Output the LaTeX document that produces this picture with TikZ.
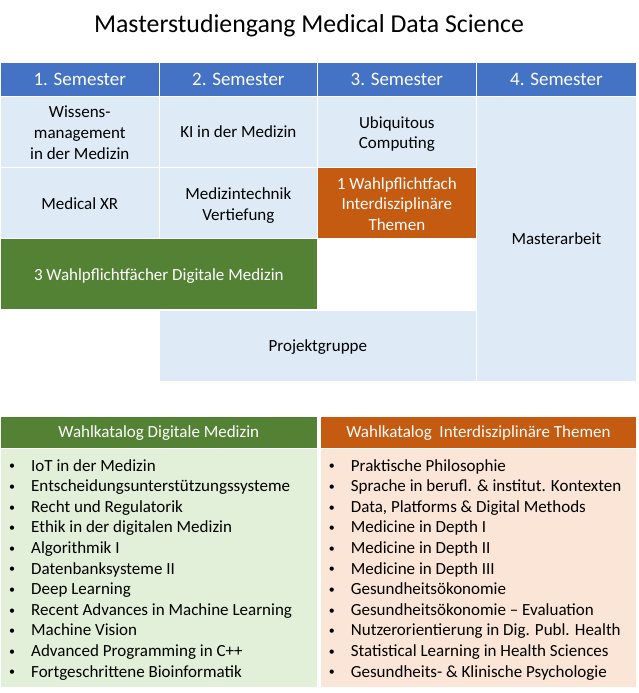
\documentclass[tikz,border=0pt]{standalone}
\usepackage{fontspec}
\setmainfont{Carlito}
\definecolor{headblue}{HTML}{4472C4}
\definecolor{cellblue}{HTML}{DEEBF7}
\definecolor{dgreen}{HTML}{548235}
\definecolor{dorange}{HTML}{C55A11}
\definecolor{lgreen}{HTML}{E2F0D9}
\definecolor{lorange}{HTML}{FBE5D6}
\newcommand{\smallbullet}{\llap{\raisebox{1.2pt}{\fontsize{12}{12}\selectfont•}\hspace{16pt}}}
\newcommand{\celldepth}{4.6pt}
\begin{document}
\begin{tikzpicture}[x=1pt,y=-1pt,
  celldp/.store in=\celldepth,
  box/.style={inner sep=0pt, outer sep=0pt, align=center, font=\fontsize{17}{20.6}\selectfont},
  tbox/.style={box, execute at begin node={\rule{0pt}{16.6pt}}, execute at end node={\rule[-\celldepth]{0pt}{0pt}}},
  mtext/.style={tbox, text=black, yshift=-3.3pt},
  head/.style={box, fill=headblue, text=white, font=\fontsize{19}{22}\selectfont, minimum height=32.5pt},
  cell/.style={tbox, fill=cellblue, text=black},
  gcell/.style={tbox, fill=dgreen, text=white},
  ocell/.style={tbox, fill=dorange, text=white},
  item/.style={anchor=base west, inner sep=0pt, font=\fontsize{17}{20.6}\selectfont, text=black},
  title/.style={anchor=base, inner sep=0pt, font=\fontsize{25.8}{30}\selectfont}
]
\useasboundingbox (0,0) rectangle (639,693);
\fill[white] (0,0) rectangle (639,693);

\node[title] (title) at (309,33) {Masterstudiengang Medical Data Science};

% header row
\node[head, minimum width=157.5pt] (s1) at (79.75,79.25) {1. Semester};
\node[head, minimum width=156.7pt] (s2) at (238.35,79.25) {2. Semester};
\node[head, minimum width=157.7pt] (s3) at (396.85,79.25) {3. Semester};
\node[head, minimum width=158.2pt] (s4) at (556.4,79.25) {4. Semester};

% row 2
\node[cell, minimum width=157.5pt, minimum height=69.9pt, label={[mtext]center:{Wissens-\\management\\in der Medizin}}] (wm) at (79.75,131.75) {};
\node[cell, minimum width=156.7pt, minimum height=69.9pt] (ki) at (238.35,131.75) {KI in der Medizin};
\node[cell, minimum width=157.7pt, minimum height=69.9pt, label={[mtext]center:{Ubiquitous\\Computing}}] (uc) at (396.85,131.75) {};
\node[cell, minimum width=158.2pt, minimum height=283.7pt] (ma) at (556.4,238.65) {Masterarbeit};

% row 3
\node[cell, minimum width=157.5pt, minimum height=69.4pt] (xr) at (79.75,203) {Medical XR};
\node[cell, minimum width=156.7pt, minimum height=69.4pt, label={[mtext]center:{Medizintechnik\\Vertiefung}}] (mt) at (238.35,203) {};
\node[ocell, minimum width=157.7pt, minimum height=69.4pt, label={[mtext, text=white]center:{1 Wahlpflichtfach\\Interdisziplinäre\\Themen}}] (wf) at (396.85,203) {};

% rows 4 and 5
\node[gcell, minimum width=315.7pt, minimum height=70pt] (wd) at (158.85,274.2) {3 Wahlpflichtfächer Digitale Medizin};
\node[cell, minimum width=315.7pt, minimum height=69.5pt] (pg) at (317.85,345.75) {Projektgruppe};

% catalogues
\node[gcell, celldp=6.4pt, minimum width=315.7pt, minimum height=31pt] (kd) at (158.85,432.2) {Wahlkatalog Digitale Medizin};
\node[box, fill=lgreen, minimum width=315.7pt, minimum height=238pt] (kdb) at (158.85,567.7) {};
\node[ocell, celldp=6.4pt, minimum width=315pt, minimum height=31pt] (ki2) at (478.5,432.2) {Wahlkatalog\ \ Interdisziplinäre Themen};
\node[box, fill=lorange, minimum width=315pt, minimum height=238pt] (kib) at (478.5,567.7) {};

\foreach \t [count=\i from 0] in {IoT in der Medizin, Entscheidungsunterstützungssysteme, Recht und Regulatorik, Ethik in der digitalen Medizin, Algorithmik I, Datenbanksysteme II, Deep Learning, Recent Advances in Machine Learning, Machine Vision, Advanced Programming in C++, Fortgeschrittene Bioinformatik}
  \node[item] (dl\i) at (31,471+20.6*\i) {\smallbullet\t};

\foreach \t [count=\i from 0] in {Praktische Philosophie, Sprache in berufl. \& institut. Kontexten, {Data, Platforms \& Digital Methods}, Medicine in Depth I, Medicine in Depth II, Medicine in Depth III, Gesundheitsökonomie, Gesundheitsökonomie – Evaluation, Nutzerorientierung in Dig. Publ. Health, Statistical Learning in Health Sciences, Gesundheits- \& Klinische Psychologie}
  \node[item] (il\i) at (350.7,471+20.6*\i) {\smallbullet\t};
\end{tikzpicture}
\end{document}
